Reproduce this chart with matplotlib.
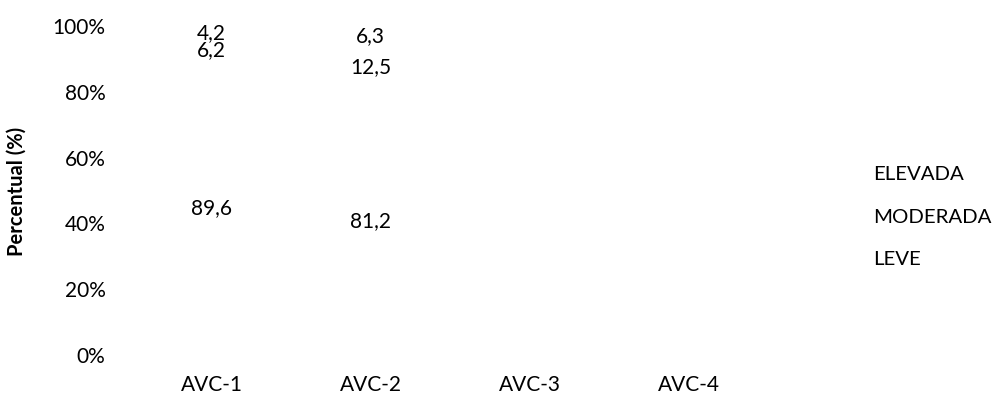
import numpy as np
import matplotlib.pyplot as plt
from matplotlib.patches import Patch

plt.rcParams['font.family'] = ['Lato', 'DejaVu Sans']

categories = ['AVC-1', 'AVC-2', 'AVC-3', 'AVC-4']
leve = [89.6, 81.2, 0, 0]
moderada = [6.2, 12.5, 0, 0]
elevada = [4.2, 6.3, 0, 0]
series = [('LEVE', leve), ('MODERADA', moderada), ('ELEVADA', elevada)]

fig = plt.figure(figsize=(9.96, 4.03), dpi=100)
ax = fig.add_axes([0.1325, 0.119, 0.639, 0.8165])

x = np.arange(len(categories))
totals = np.array(leve) + np.array(moderada) + np.array(elevada)
totals[totals == 0] = 1
bottom = np.zeros(len(categories))
for name, vals in series:
    pct = np.array(vals) / totals
    bars = ax.bar(x, pct, 0.6, bottom=bottom, color='white', label=name)
    labels = [f"{v:.1f}".replace('.', ',') if v > 0 else '' for v in vals]
    ax.bar_label(bars, labels=labels, label_type='center', fontsize=15)
    bottom += pct

ax.set_xlim(-0.5, 3.5)
ax.set_ylim(0, 1)
ax.set_xticks(x)
ax.set_xticklabels(categories, fontsize=15)
ax.set_yticks(np.arange(0, 1.01, 0.2))
ax.set_yticklabels([f"{int(round(t * 100))}%" for t in np.arange(0, 1.01, 0.2)], fontsize=15)
ax.tick_params(axis='y', length=0, pad=19)
ax.tick_params(axis='x', length=0, pad=14.5)
for s in ax.spines.values():
    s.set_visible(False)

fig.text(0.017, 0.526, 'Percentual (%)', rotation=90, fontsize=14.5, fontweight='bold',
         ha='center', va='center')

handles = [Patch(facecolor='white', edgecolor='none') for _ in series][::-1]
names = [n for n, _ in series][::-1]
ax.legend(handles, names, loc='center left', bbox_to_anchor=(1.136, 0.4195), frameon=False,
          fontsize=14.7, handlelength=0, handletextpad=0, labelspacing=1.24)

fig.savefig('out.png', dpi=100)
